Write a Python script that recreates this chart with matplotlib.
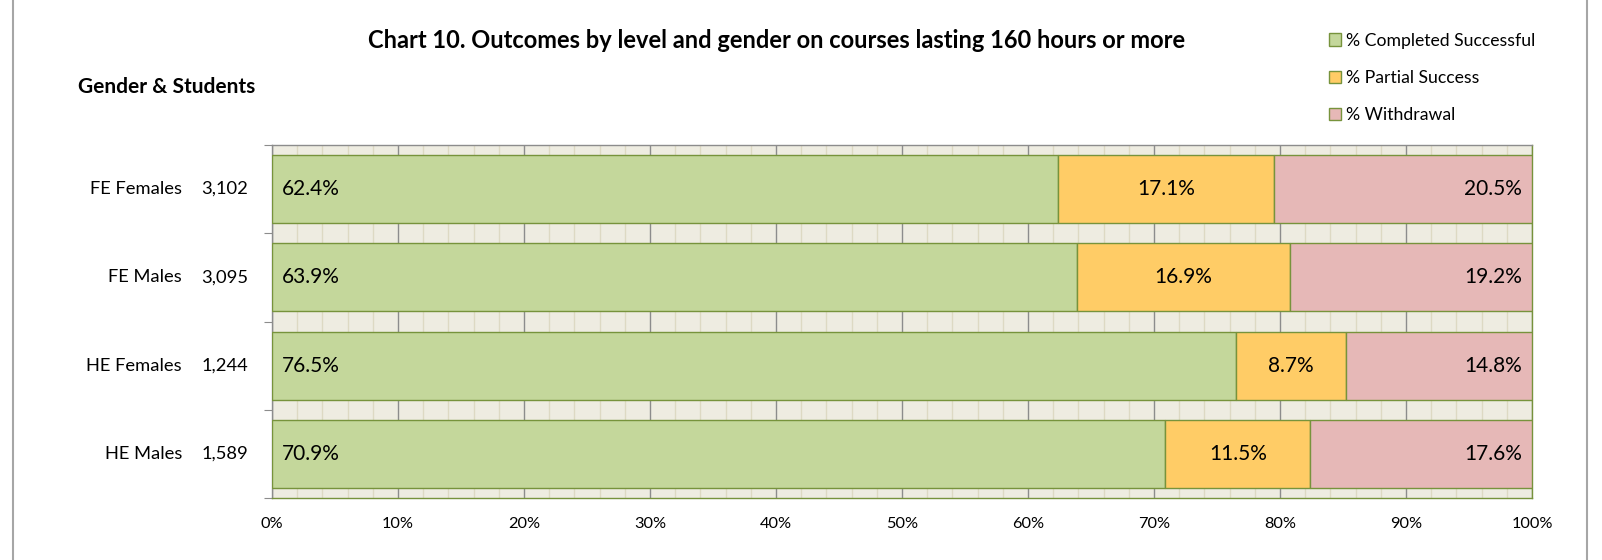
import matplotlib.pyplot as plt
import numpy as np
from matplotlib.ticker import MultipleLocator, FuncFormatter

plt.rcParams['font.family'] = ['Lato', 'DejaVu Sans']

### Data
groups = ['FE Females', 'FE Males', 'HE Females', 'HE Males']
students = ['3,102', '3,095', '1,244', '1,589']
completed = [62.4, 63.9, 76.5, 70.9]
partial = [17.1, 16.9, 8.7, 11.5]
withdrawal = [20.5, 19.2, 14.8, 17.6]
series_names = ['% Completed Successful', '% Partial Success', '% Withdrawal']
colors = ['#C4D79B', '#FFCC66', '#E6B8B7']
edge = '#77933C'

W, H = 1602, 560
fig = plt.figure(figsize=(W / 100, H / 100), dpi=100)
ax = fig.add_axes([272 / W, 1 - 498 / H, (1532 - 272) / W, (498 - 145) / H])
ax.set_facecolor('#EEECE1')

y = np.arange(len(groups))
left = np.zeros(len(groups))
for vals, name, col in zip([completed, partial, withdrawal], series_names, colors):
    ax.barh(y, vals, left=left, height=0.77, color=col, edgecolor=edge, linewidth=1, label=name, zorder=3)
    left += np.array(vals)

# data labels: inside base / center / inside end
for i in range(len(groups)):
    ax.text(0.8, y[i], f'{completed[i]:.1f}%', ha='left', va='center', fontsize=15, zorder=4)
    ax.text(completed[i] + partial[i] / 2, y[i], f'{partial[i]:.1f}%', ha='center', va='center', fontsize=15, zorder=4)
    ax.text(99.2, y[i], f'{withdrawal[i]:.1f}%', ha='right', va='center', fontsize=15, zorder=4)

ax.set_xlim(0, 100)
ax.set_ylim(len(groups) - 0.5, -0.5)
ax.xaxis.set_major_locator(MultipleLocator(10))
ax.xaxis.set_minor_locator(MultipleLocator(2))
ax.xaxis.set_major_formatter(FuncFormatter(lambda v, p: f'{v:.0f}%'))
ax.grid(which='minor', axis='x', color='#DDD9C3', linewidth=1, zorder=1)
ax.grid(which='major', axis='x', color='#8C8C8C', linewidth=1, zorder=2)
ax.tick_params(axis='x', which='both', length=0, labelsize=11.8, pad=14)
ax.set_yticks(np.arange(-0.5, len(groups) + 0.5, 1))
ax.set_yticklabels([])
ax.tick_params(axis='y', length=6, color='#8C8C8C', direction='out')
for s in ax.spines.values():
    s.set_color('#8C8C8C')
    s.set_linewidth(1)
ax.spines['right'].set_color(edge)
ax.spines['bottom'].set_color(edge)

# category labels with student counts
for i in range(len(groups)):
    ax.annotate(groups[i], xy=(0, y[i]), xycoords=('axes fraction', 'data'), xytext=(-90, 0),
                textcoords='offset pixels', ha='right', va='center', fontsize=13.2)
    ax.annotate(students[i], xy=(0, y[i]), xycoords=('axes fraction', 'data'), xytext=(-24, 0),
                textcoords='offset pixels', ha='right', va='center', fontsize=13.2)

fig.text(777 / W, 1 - 41 / H, 'Chart 10. Outcomes by level and gender on courses lasting 160 hours or more',
         ha='center', va='center', fontsize=17, fontweight='bold')
fig.text(78 / W, 1 - 87 / H, 'Gender & Students', ha='left', va='center', fontsize=15, fontweight='bold')

fig.legend(loc='upper left', bbox_to_anchor=(1320 / W, 1 - 24 / H), frameon=False, fontsize=12.7,
           handlelength=0.7, handleheight=0.7, handletextpad=0.3, labelspacing=1.2, borderpad=0)

# outer chart frame sides
fig.add_artist(plt.Line2D([13 / W, 13 / W], [0, 1], color='#A6A6A6', linewidth=1.5))
fig.add_artist(plt.Line2D([1587 / W, 1587 / W], [0, 1], color='#A6A6A6', linewidth=1.5))

plt.savefig('out.png', dpi=100)
